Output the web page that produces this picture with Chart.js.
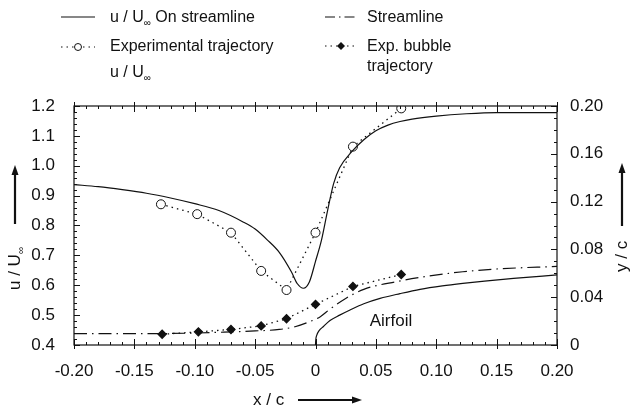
<!DOCTYPE html>
<html>
<head>
<meta charset="utf-8">
<script src="https://cdn.jsdelivr.net/npm/chart.js@4.4.0/dist/chart.umd.min.js"></script>
<style>
  html, body { margin: 0; padding: 0; background: #fff; }
  #wrap { width: 630px; height: 409px; }
</style>
</head>
<body>
<div id="wrap"><canvas id="chart" width="630" height="409"></canvas></div>
<script>
// tick labels
var xTicks = [-0.20, -0.15, -0.10, -0.05, 0, 0.05, 0.10, 0.15, 0.20];
var uTicks = [0.4, 0.5, 0.6, 0.7, 0.8, 0.9, 1.0, 1.1, 1.2];
var ycTicks = [0, 0.04, 0.08, 0.12, 0.16, 0.20];

// u/Uinf on streamline (left axis)
var uLineX = [-0.20, -0.18, -0.16, -0.14, -0.12, -0.10, -0.08, -0.06, -0.05, -0.04, -0.03, -0.02, -0.015, -0.01, -0.005, 0, 0.005, 0.01, 0.015, 0.02, 0.03, 0.04, 0.05, 0.06, 0.07, 0.08, 0.10, 0.125, 0.15, 0.20];
var uLineY = [0.937, 0.930, 0.920, 0.908, 0.892, 0.873, 0.850, 0.812, 0.788, 0.752, 0.710, 0.645, 0.605, 0.590, 0.612, 0.680, 0.752, 0.850, 0.940, 0.993, 1.047, 1.087, 1.117, 1.136, 1.148, 1.156, 1.166, 1.174, 1.178, 1.178];

// experimental trajectory u/Uinf (left axis)
var expX = [-0.128, -0.098, -0.070, -0.045, -0.024, 0, 0.031, 0.071];
var expU = [0.871, 0.838, 0.776, 0.648, 0.584, 0.776, 1.064, 1.192];

// exp. bubble trajectory y/c (right axis)
var bubX = [-0.127, -0.097, -0.070, -0.045, -0.024, 0, 0.031, 0.071];
var bubY = [0.009, 0.011, 0.013, 0.016, 0.022, 0.034, 0.049, 0.059];

// streamline y/c (right axis)
var strX = [-0.20, -0.15, -0.10, -0.07, -0.05, -0.03, -0.017, -0.005, 0.004, 0.012, 0.025, 0.04, 0.067, 0.094, 0.122, 0.15, 0.20];
var strY = [0.0095, 0.0095, 0.0100, 0.0110, 0.0118, 0.0130, 0.0153, 0.0195, 0.0237, 0.0300, 0.0390, 0.0466, 0.0530, 0.0577, 0.0613, 0.0636, 0.0658];

// airfoil contour y/c (right axis)
var foilX = [0, 0.0002, 0.001, 0.003, 0.0066, 0.012, 0.02, 0.0286, 0.04, 0.0535, 0.07, 0.0866, 0.105, 0.122, 0.14, 0.164, 0.20];
var foilY = [0, 0.004, 0.008, 0.012, 0.0155, 0.0205, 0.025, 0.0293, 0.0345, 0.039, 0.043, 0.0466, 0.0495, 0.0516, 0.0535, 0.0558, 0.0586];

var ink = '#111';
var fontName = '"Liberation Sans", Arial, sans-serif';
var dotDash = [1.5, 4];
var dashDot = [13, 5, 1.5, 5];

function pts(xs, ys) {
    return xs.map(function(x, i) { return {x: x, y: ys[i]}; });
}

function fmtX(v) {
    if (Math.abs(v) < 1e-9) return '0';
    return v.toFixed(2);
}

// frame, inward ticks, titles, legend
var decorations = {
    id: 'decorations',
    afterDatasetsDraw: function(chart) {
        var ctx = chart.ctx, a = chart.chartArea, s = chart.scales;
        ctx.save();
        ctx.strokeStyle = ink;
        ctx.fillStyle = ink;
        ctx.lineWidth = 1.2;
        ctx.strokeRect(a.left, a.top, a.right - a.left, a.bottom - a.top);

        ctx.lineWidth = 1;
        ctx.beginPath();
        for (var i = -20; i <= 20; i++) {
            var px = Math.round(s.x.getPixelForValue(i / 100)) + 0.5;
            var major = i % 5 === 0;
            var inL = major ? 6 : 3, outL = major ? 4 : 0;
            ctx.moveTo(px, a.bottom + outL); ctx.lineTo(px, a.bottom - inL);
            ctx.moveTo(px, a.top - outL); ctx.lineTo(px, a.top + inL);
        }
        for (var j = 0; j <= 40; j++) {
            var py = Math.round(s.y.getPixelForValue(0.4 + j * 0.02)) + 0.5;
            var len = j % 5 === 0 ? 6 : 3;
            ctx.moveTo(a.left, py); ctx.lineTo(a.left + len, py);
        }
        for (var k = 0; k <= 20; k++) {
            var py2 = Math.round(s.y1.getPixelForValue(k / 100)) + 0.5;
            var len2 = k % 4 === 0 ? 6 : 3;
            ctx.moveTo(a.right, py2); ctx.lineTo(a.right - len2, py2);
        }
        ctx.stroke();

        // Airfoil label
        ctx.font = '17px ' + fontName;
        ctx.textAlign = 'center';
        ctx.textBaseline = 'middle';
        ctx.fillText('Airfoil', s.x.getPixelForValue(0.0625), s.y1.getPixelForValue(0.02));

        // axis titles with arrows
        ctx.textAlign = 'left';
        ctx.font = '17px ' + fontName;
        ctx.fillText('x / c', 253, 400);
        arrow(ctx, 298, 400, 362, 400);

        ctx.save();
        ctx.translate(15, 290);
        ctx.rotate(-Math.PI / 2);
        drawU(ctx, 0, 0, 17);
        ctx.restore();
        arrow(ctx, 15, 224, 15, 165);

        ctx.save();
        ctx.translate(622, 272);
        ctx.rotate(-Math.PI / 2);
        ctx.fillText('y / c', 0, 0);
        ctx.restore();
        arrow(ctx, 622, 226, 622, 163);

        drawLegend(ctx);
        ctx.restore();
    }
};

function arrow(ctx, x1, y1, x2, y2) {
    var ang = Math.atan2(y2 - y1, x2 - x1);
    ctx.beginPath();
    ctx.lineWidth = 2.2;
    ctx.moveTo(x1, y1);
    ctx.lineTo(x2 - 6 * Math.cos(ang), y2 - 6 * Math.sin(ang));
    ctx.stroke();
    ctx.beginPath();
    ctx.moveTo(x2, y2);
    ctx.lineTo(x2 - 10 * Math.cos(ang) + 3.5 * Math.sin(ang), y2 - 10 * Math.sin(ang) - 3.5 * Math.cos(ang));
    ctx.lineTo(x2 - 10 * Math.cos(ang) - 3.5 * Math.sin(ang), y2 - 10 * Math.sin(ang) + 3.5 * Math.cos(ang));
    ctx.closePath();
    ctx.fill();
}

// "u / U" with a small infinity subscript, returns end x
function drawU(ctx, x, y, size) {
    ctx.textAlign = 'left';
    ctx.textBaseline = 'middle';
    ctx.font = size + 'px ' + fontName;
    ctx.fillText('u / U', x, y);
    var w = ctx.measureText('u / U').width;
    ctx.font = Math.round(size * 0.6) + 'px ' + fontName;
    ctx.fillText('\u221e', x + w, y + size * 0.35);
    var w2 = ctx.measureText('\u221e').width;
    ctx.font = size + 'px ' + fontName;
    return x + w + w2;
}

function sampleLine(ctx, x1, x2, y, dash) {
    ctx.beginPath();
    ctx.lineWidth = 1.2;
    ctx.setLineDash(dash);
    ctx.moveTo(x1, y); ctx.lineTo(x2, y);
    ctx.stroke();
    ctx.setLineDash([]);
}

function drawLegend(ctx) {
    var size = 16;
    ctx.textAlign = 'left';
    ctx.textBaseline = 'middle';
    ctx.strokeStyle = ink;
    ctx.fillStyle = ink;

    sampleLine(ctx, 61, 95, 17, []);
    var ex = drawU(ctx, 110, 18, size);
    ctx.fillText(' On streamline', ex, 18);

    sampleLine(ctx, 61, 95, 47, dotDash);
    ctx.beginPath();
    ctx.fillStyle = '#fff';
    ctx.lineWidth = 1;
    ctx.arc(78, 47, 3.5, 0, Math.PI * 2);
    ctx.fill(); ctx.stroke();
    ctx.fillStyle = ink;
    ctx.font = size + 'px ' + fontName;
    ctx.fillText('Experimental trajectory', 110, 47);
    drawU(ctx, 110, 73, size);

    sampleLine(ctx, 325, 358, 17, [10, 4, 1.5, 4]);
    ctx.font = size + 'px ' + fontName;
    ctx.fillText('Streamline', 367, 18);

    sampleLine(ctx, 325, 358, 46, dotDash);
    ctx.beginPath();
    ctx.moveTo(341, 42); ctx.lineTo(345, 46); ctx.lineTo(341, 50); ctx.lineTo(337, 46);
    ctx.closePath(); ctx.fill();
    ctx.fillText('Exp. bubble', 367, 47);
    ctx.fillText('trajectory', 367, 67);
}

var ctx = document.getElementById('chart').getContext('2d');
var chart = new Chart(ctx, {
    type: 'scatter',
    data: {
        datasets: [
            {
                label: 'u/U\u221e On streamline',
                data: pts(uLineX, uLineY),
                yAxisID: 'y',
                showLine: true,
                borderColor: ink,
                borderWidth: 1.2,
                pointRadius: 0,
                cubicInterpolationMode: 'monotone'
            },
            {
                label: 'Experimental trajectory u/U\u221e',
                data: pts(expX, expU),
                yAxisID: 'y',
                showLine: true,
                borderColor: ink,
                borderWidth: 1.3,
                borderDash: dotDash,
                pointStyle: 'circle',
                pointRadius: 4.5,
                pointBorderWidth: 1,
                pointBackgroundColor: '#fff',
                pointBorderColor: ink
            },
            {
                label: 'Streamline',
                data: pts(strX, strY),
                yAxisID: 'y1',
                showLine: true,
                borderColor: ink,
                borderWidth: 1.2,
                borderDash: dashDot,
                pointRadius: 0,
                cubicInterpolationMode: 'monotone'
            },
            {
                label: 'Exp. bubble trajectory',
                data: pts(bubX, bubY),
                yAxisID: 'y1',
                showLine: true,
                borderColor: ink,
                borderWidth: 1.3,
                borderDash: dotDash,
                pointStyle: 'rectRot',
                pointRadius: 4,
                pointBackgroundColor: ink,
                pointBorderColor: ink
            },
            {
                label: 'Airfoil',
                data: pts(foilX, foilY),
                yAxisID: 'y1',
                showLine: true,
                borderColor: ink,
                borderWidth: 1.2,
                pointRadius: 0,
                cubicInterpolationMode: 'monotone'
            }
        ]
    },
    options: {
        responsive: false,
        animation: false,
        layout: { padding: { top: 106, left: 0, right: 0, bottom: 0 } },
        plugins: { legend: { display: false }, tooltip: { enabled: false } },
        scales: {
            x: {
                type: 'linear',
                min: -0.2, max: 0.2,
                grid: { display: false },
                border: { display: false },
                afterFit: function(sc) { sc.height = 64; },
                afterBuildTicks: function(sc) { sc.ticks = xTicks.map(function(v) { return {value: v}; }); },
                ticks: {
                    padding: 8,
                    color: ink,
                    font: { family: fontName, size: 17 },
                    callback: function(v) { return fmtX(v); }
                }
            },
            y: {
                position: 'left',
                min: 0.4, max: 1.2,
                grid: { display: false },
                border: { display: false },
                afterFit: function(sc) { sc.width = 74; },
                afterBuildTicks: function(sc) { sc.ticks = uTicks.map(function(v) { return {value: v}; }); },
                ticks: {
                    padding: 11,
                    color: ink,
                    font: { family: fontName, size: 17 },
                    callback: function(v) { return v.toFixed(1); }
                }
            },
            y1: {
                position: 'right',
                min: 0, max: 0.2,
                grid: { display: false },
                border: { display: false },
                afterFit: function(sc) { sc.width = 73; },
                afterBuildTicks: function(sc) { sc.ticks = ycTicks.map(function(v) { return {value: v}; }); },
                ticks: {
                    padding: 5,
                    color: ink,
                    font: { family: fontName, size: 17 },
                    callback: function(v) { return Math.abs(v) < 1e-9 ? '0' : v.toFixed(2); }
                }
            }
        }
    },
    plugins: [decorations]
});
</script>
</body>
</html>
